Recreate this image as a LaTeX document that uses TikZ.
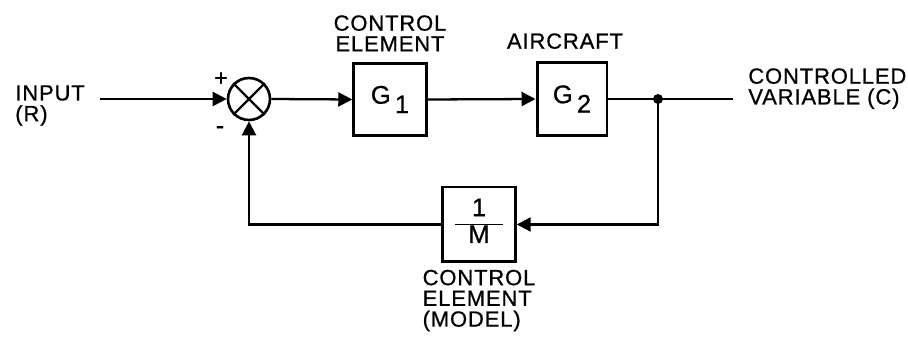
\documentclass[tikz,border=0pt]{standalone}
\usepackage{fontspec}
\setmainfont{Liberation Sans}[LetterSpace=4,FakeBold=0.8]
\usepackage{tikz}
\usetikzlibrary{arrows.meta,positioning}
\setlength{\arrayrulewidth}{1.1pt}

\tikzset{
  blk/.style={draw,line width=1.7pt,minimum width=1.45cm,minimum height=1.45cm,inner sep=0pt,font=\fontsize{14.5}{14}\selectfont},
  summer/.style={draw,circle,line width=1.5pt,minimum size=0.84cm,inner sep=0pt},
  lbl/.style={inner sep=0pt,align=left,font=\fontsize{12.5}{11.8}\selectfont},
  sig/.style={line width=1.3pt},
  arr/.style={sig,-{Triangle[length=2.8mm,width=2.8mm]}}
}

\begin{document}
\begin{tikzpicture}[x=0.02cm,y=-0.02cm]
\useasboundingbox (0,0) rectangle (908,347);
% blocks
\node[summer] (sum) at (249,99) {};
\draw[sig] (sum.north west) -- (sum.south east);
\draw[sig] (sum.north east) -- (sum.south west);
\node[blk] (g1) at (390,99.5) {G\,\raisebox{-0.7ex}{1}};
\node[blk,minimum width=1.4cm] (g2) at (572,99) {G\,\raisebox{-0.7ex}{2}};
\node[blk,minimum height=1.5cm] (model) at (479,224.5)
  {\begin{tabular}{@{}c@{}}\makebox[0.95cm]{1}\\\hline M\end{tabular}};
\coordinate (in) at (100,99);
\coordinate (out) at (733,99);
\coordinate (tap) at (658,99);
\fill (tap) circle (5);

% connectors
\draw[arr] (in) -- (sum.west);
\draw[arr] (sum.east) -- (g1.west);
\draw[arr] (g1.east) -- (g2.west);
\draw[sig] (g2.east) -- (out);
\draw[arr] (tap) |- (model.east);
\draw[arr] (model.west) -| (sum.south);

% labels
\node[lbl,anchor=north west] (inlbl) at (15,85) {INPUT\\(R)};
\node[lbl,anchor=north west] (outlbl) at (748,68) {CONTROLLED\\VARIABLE (C)};
\node[lbl,align=center,above=0.2cm of g1] (g1lbl) {CONTROL\\ELEMENT};
\node[lbl,above=0.24cm of g2,xshift=-0.14cm] (g2lbl) {AIRCRAFT};
\node[lbl,below=0.12cm of model] (mlbl) {CONTROL\\ELEMENT\\(MODEL)};
\node[lbl,font=\fontsize{13}{13}\selectfont] (plus) at (221,79) {+};
\node[lbl,font=\fontsize{14}{14}\selectfont] (minus) at (220,130) {-};
\end{tikzpicture}
\end{document}
